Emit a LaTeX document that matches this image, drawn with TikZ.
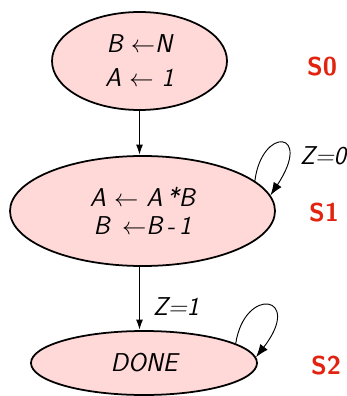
\documentclass[tikz,border=0pt]{standalone}
\usetikzlibrary{arrows.meta,shapes.geometric}
\definecolor{statepink}{RGB}{255,216,216}
\definecolor{labelred}{RGB}{225,35,15}
\begin{document}
\begin{tikzpicture}[
  x=0.03cm, y=-0.03cm,
  >=Latex,
  state/.style={
    draw,
    ellipse,
    line width=1.5pt,
    fill=statepink,
    inner sep=0pt,
    align=center,
    font=\fontsize{22}{29}\sffamily\itshape\selectfont
  },
  line/.style={-{Latex[length=9pt,width=6pt]}, line width=1.4pt},
  loop/.style={-{Latex[length=11pt,width=8pt]}, line width=0.8pt},
  tag/.style={text=labelred, font=\fontsize{22}{26}\sffamily\bfseries\selectfont},
  cond/.style={font=\fontsize{22}{26}\sffamily\itshape\selectfont, inner sep=0pt}
]
\useasboundingbox (0,0) rectangle (347,396);
\clip (0,0) rectangle (347,396);

\node[state, minimum width=5.25cm, minimum height=2.94cm] (s0) at (139.5,61)
  {B $\leftarrow$N\\A $\leftarrow$ 1};
\node[state, minimum width=7.95cm, minimum height=3.3cm,
  font=\fontsize{22}{24}\sffamily\itshape\selectfont] (s1) at (142.5,211)
  {A $\leftarrow$ A\,*B\\B\, $\leftarrow$B\,-\,1};
\node[state, minimum width=6.78cm, minimum height=1.92cm] (s2) at (144,363) {DONE};

\node[tag] (t0) at (322,67) {S0};
\node[tag] (t1) at (324,213) {S1};
\node[tag] (t2) at (326,366) {S2};

\draw[line] (s0.south) -- (s0.south |- s1.north);
\draw[line] (s0.south |- s1.south) -- (s0.south |- s2.north)
  node[cond, pos=0.62, right=11pt] (z1) {Z=1};

\draw[loop] (s1.15) .. controls +(7,-55) and +(43,-65) .. (s1.7);
\node[cond, anchor=west] (z0) at (300,156) {Z=0};

\draw[loop] (s2.12) .. controls +(9,-58) and +(48,-62) .. (s2.3);
\end{tikzpicture}
\end{document}
